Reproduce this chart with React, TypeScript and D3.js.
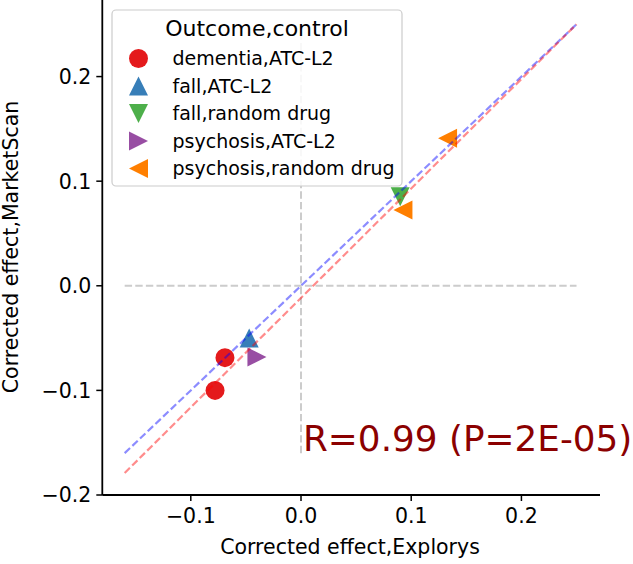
import React from "react";
import * as d3 from "d3";

const groups = ["dementia,ATC-L2", "fall,ATC-L2", "fall,random drug", "psychosis,ATC-L2", "psychosis,random drug"];
const groupShapes = ["circle", "up", "down", "right", "left"];
const groupColors = ["#e41a1c", "#377eb8", "#4daf4a", "#984ea3", "#ff7f00"];

const pointGroup = [0, 0, 1, 3, 2, 4, 4];
const explorys = [-0.069, -0.078, -0.047, -0.04, 0.09, 0.133, 0.0925];
const marketscan = [-0.0687, -0.1, -0.05, -0.068, 0.085, 0.141, 0.0725];

const identityX = [-0.16, 0.25];
const identityY = [-0.16, 0.25];
const fitX = [-0.16, 0.25];
const fitY = [-0.179, 0.25];

const xTicks = [-0.1, 0.0, 0.1, 0.2];
const yTicks = [-0.2, -0.1, 0.0, 0.1, 0.2];

const W = 633;
const H = 564;
const FONT = "DejaVu Sans, sans-serif";

function markerPath(shape: string, r: number): string {
  switch (shape) {
    case "up":
      return `M0,${-r}L${r},${r}L${-r},${r}Z`;
    case "down":
      return `M0,${r}L${r},${-r}L${-r},${-r}Z`;
    case "right":
      return `M${r},0L${-r},${-r}L${-r},${r}Z`;
    case "left":
      return `M${-r},0L${r},${-r}L${r},${r}Z`;
    default:
      return "";
  }
}

function Marker({ shape, color, x, y }: { shape: string; color: string; x: number; y: number }) {
  if (shape === "circle") return <circle cx={x} cy={y} r={9.5} fill={color} />;
  return <path d={markerPath(shape, 9.5)} transform={`translate(${x},${y})`} fill={color} />;
}

export default function App() {
  const x = d3.scaleLinear().domain([-0.1803, 0.2713]).range([102.3, 600]);
  const y = d3.scaleLinear().domain([-0.2, 0.2732]).range([495, 0]);
  const line = d3
    .line<[number, number]>()
    .x((d) => x(d[0]))
    .y((d) => y(d[1]));
  const fmt = d3.format(".1f");
  const tickFmt = (v: number) => fmt(v).replace("-", "\u2212");

  const legendX = 112;
  const legendY = 10;
  const legendW = 290;
  const legendH = 176;

  return (
    <svg width={W} height={H} style={{ position: "absolute", left: 0, top: 0 }} fontFamily={FONT}>
      <rect width={W} height={H} fill="white" />
      {/* reference lines */}
      <path
        d={line([[-0.16, 0], [0.25, 0]]) || ""}
        stroke="#cccccc"
        strokeWidth={2}
        strokeDasharray="7.4,3.2"
        fill="none"
      />
      <path
        d={line([[0, -0.16], [0, 0.25]]) || ""}
        stroke="#cccccc"
        strokeWidth={2}
        strokeDasharray="7.4,3.2"
        fill="none"
      />
      {/* points */}
      {explorys.map((ex, i) => (
        <Marker
          key={i}
          shape={groupShapes[pointGroup[i]]}
          color={groupColors[pointGroup[i]]}
          x={x(ex)}
          y={y(marketscan[i])}
        />
      ))}
      {/* diagonal lines */}
      <path
        d={line(identityX.map((v, i) => [v, identityY[i]] as [number, number])) || ""}
        stroke="blue"
        strokeOpacity={0.45}
        strokeWidth={2.2}
        strokeDasharray="7.4,3.2"
        fill="none"
      />
      <path
        d={line(fitX.map((v, i) => [v, fitY[i]] as [number, number])) || ""}
        stroke="red"
        strokeOpacity={0.45}
        strokeWidth={2.2}
        strokeDasharray="7.4,3.2"
        fill="none"
      />
      {/* R text */}
      <text x={x(0) + 2} y={y(-0.158)} fontSize={35.8} fill="#8b0000">
        R=0.99 (P=2E-05)
      </text>
      {/* axes */}
      <line x1={x.range()[0]} x2={x.range()[1]} y1={495} y2={495} stroke="black" strokeWidth={1.8} />
      <line x1={102.3} x2={102.3} y1={0} y2={495} stroke="black" strokeWidth={1.8} />
      {xTicks.map((t) => (
        <g key={t} transform={`translate(${x(t)},495)`}>
          <line y1={0} y2={6} stroke="black" strokeWidth={1.5} />
          <text y={28} textAnchor="middle" fontSize={20.5} fill="black">
            {tickFmt(t)}
          </text>
        </g>
      ))}
      {yTicks.map((t) => (
        <g key={t} transform={`translate(102.3,${y(t)})`}>
          <line x1={0} x2={-6} stroke="black" strokeWidth={1.5} />
          <text x={-11} dy="0.36em" textAnchor="end" fontSize={20.5} fill="black">
            {tickFmt(t)}
          </text>
        </g>
      ))}
      <text x={350} y={554} textAnchor="middle" fontSize={20.5} fill="black">
        Corrected effect,Explorys
      </text>
      <text transform="translate(17.5,247) rotate(-90)" textAnchor="middle" fontSize={20.5} fill="black">
        Corrected effect,MarketScan
      </text>
      {/* legend */}
      <rect
        x={legendX}
        y={legendY}
        width={legendW}
        height={legendH}
        rx={4}
        fill="white"
        fillOpacity={0.85}
        stroke="#cccccc"
        strokeWidth={1.2}
      />
      <text x={legendX + legendW / 2} y={36} textAnchor="middle" fontSize={22} fill="black">
        Outcome,control
      </text>
      {groups.map((g, i) => (
        <g key={g}>
          <Marker shape={groupShapes[i]} color={groupColors[i]} x={138.5} y={58.5 + i * 27.5} />
          <text x={172.5} y={58.5 + i * 27.5} dy="0.36em" fontSize={19} fill="black">
            {g}
          </text>
        </g>
      ))}
    </svg>
  );
}
